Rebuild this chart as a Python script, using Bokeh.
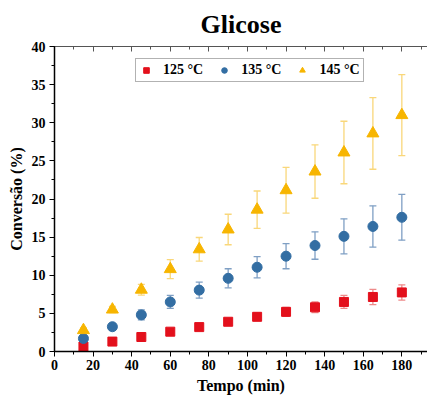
from bokeh.plotting import figure
from bokeh.models import (ColumnDataSource, Whisker, LinearAxis, Range1d,
                          Legend, LegendItem, SingleIntervalTicker, TeeHead)
from bokeh.embed import file_html
from bokeh.resources import INLINE

# Reaction time (min)
tempo = [15, 30, 45, 60, 75, 90, 105, 120, 135, 150, 165, 180]

# Glucose conversion (%) at each temperature, with standard deviations
conv_125 = [0.65, 1.3, 1.9, 2.6, 3.2, 3.9, 4.55, 5.2, 5.8, 6.5, 7.15, 7.75]
err_125 = [0.2, 0.2, 0.25, 0.25, 0.3, 0.4, 0.5, 0.6, 0.7, 0.85, 1.0, 1.0]

conv_135 = [1.7, 3.25, 4.8, 6.5, 8.05, 9.6, 11.05, 12.5, 13.9, 15.1, 16.4, 17.6]
err_135 = [0.3, 0.4, 0.65, 0.85, 1.05, 1.25, 1.4, 1.65, 1.8, 2.3, 2.7, 3.0]

conv_145 = [2.8, 5.5, 8.1, 10.8, 13.4, 16.0, 18.6, 21.15, 23.6, 26.1, 28.6, 31.0]
err_145 = [0.3, 0.4, 0.7, 1.25, 1.55, 2.0, 2.45, 3.0, 3.5, 4.1, 4.7, 5.3]

labels = ["125 \u00b0C", "135 \u00b0C", "145 \u00b0C"]
colors = ["#e3101c", "#336ea3", "#f7b500"]
bar_colors = ["#ee8a8a", "#7f9fc4", "#f9d77a"]

FONT = "Liberation Serif"

p = figure(width=427, height=397, output_backend="svg", toolbar_location=None,
           x_range=Range1d(0, 193.3), y_range=Range1d(0, 40),
           min_border_left=54, min_border_right=0, min_border_top=10,
           min_border_bottom=46, title="Glicose")
p.title.align = "center"
p.title.text_font = FONT
p.title.text_font_style = "bold"
p.title.text_font_size = "26px"
p.title.text_color = "#000000"
p.title.standoff = 15

p.grid.visible = False
p.outline_line_color = None
p.background_fill_color = "white"
p.border_fill_color = "white"

for ax in (p.xaxis[0], p.yaxis[0]):
    ax.axis_line_color = "#000000"
    ax.axis_line_width = 1.5
    ax.major_tick_line_color = "#000000"
    ax.minor_tick_line_color = "#000000"
    ax.major_tick_in = 0
    ax.major_tick_out = 5
    ax.minor_tick_in = 0
    ax.minor_tick_out = 3
    ax.major_label_text_font = FONT
    ax.major_label_text_font_style = "bold"
    ax.major_label_text_font_size = "14px"
    ax.major_label_text_color = "#000000"
    ax.axis_label_text_font = FONT
    ax.axis_label_text_font_style = "bold"
    ax.axis_label_text_font_size = "16px"
    ax.axis_label_text_color = "#000000"

p.xaxis[0].ticker = SingleIntervalTicker(interval=20, num_minor_ticks=2)
p.yaxis[0].ticker = SingleIntervalTicker(interval=5, num_minor_ticks=2)
p.xaxis[0].axis_label = "Tempo (min)"
p.yaxis[0].axis_label = "Convers\u00e3o (%)"
p.xaxis[0].axis_label_standoff = 4
p.yaxis[0].axis_label_standoff = 4
p.xaxis[0].major_label_standoff = 3
p.yaxis[0].major_label_standoff = 4

# Mirror axis along the top edge, ticks pointing into the frame, no labels
top_ticks = list(range(0, 200, 20))
top = LinearAxis(ticker=SingleIntervalTicker(interval=20, num_minor_ticks=2),
                 axis_line_color="#555555", axis_line_width=1.2,
                 major_tick_in=5, major_tick_out=0, minor_tick_in=3, minor_tick_out=0,
                 major_tick_line_color="#555555", minor_tick_line_color="#555555",
                 major_label_overrides={t: "" for t in top_ticks},
                 major_label_standoff=0)
p.add_layout(top, "above")

series = [(conv_125, err_125), (conv_135, err_135), (conv_145, err_145)]
markers = ["square", "circle", "triangle"]
sizes = [9, 10, 12]
items = []
for (vals, errs), lab, col, bcol, mk, sz in zip(series, labels, colors, bar_colors, markers, sizes):
    src = ColumnDataSource(dict(
        x=tempo, y=vals,
        upper=[v + e for v, e in zip(vals, errs)],
        lower=[v - e for v, e in zip(vals, errs)],
    ))
    w = Whisker(source=src, base="x", upper="upper", lower="lower",
                line_color=bcol, line_width=1.3,
                upper_head=TeeHead(size=7, line_color=bcol, line_width=1.3),
                lower_head=TeeHead(size=7, line_color=bcol, line_width=1.3))
    p.add_layout(w)
    r = p.scatter("x", "y", source=src, marker=mk, size=sz,
                  fill_color=col, line_color=col)
    items.append(LegendItem(label=lab, renderers=[r]))

legend = Legend(items=items, orientation="horizontal", location=(81, 269),
                label_text_font=FONT, label_text_font_style="bold",
                label_text_font_size="14px", label_text_color="#000000",
                glyph_width=14, glyph_height=14, label_standoff=10,
                spacing=14, padding=3, margin=0,
                border_line_color="#666666", border_line_width=1,
                background_fill_alpha=1.0)
p.add_layout(legend, "center")

open("out.html", "w").write(file_html(p, INLINE))
